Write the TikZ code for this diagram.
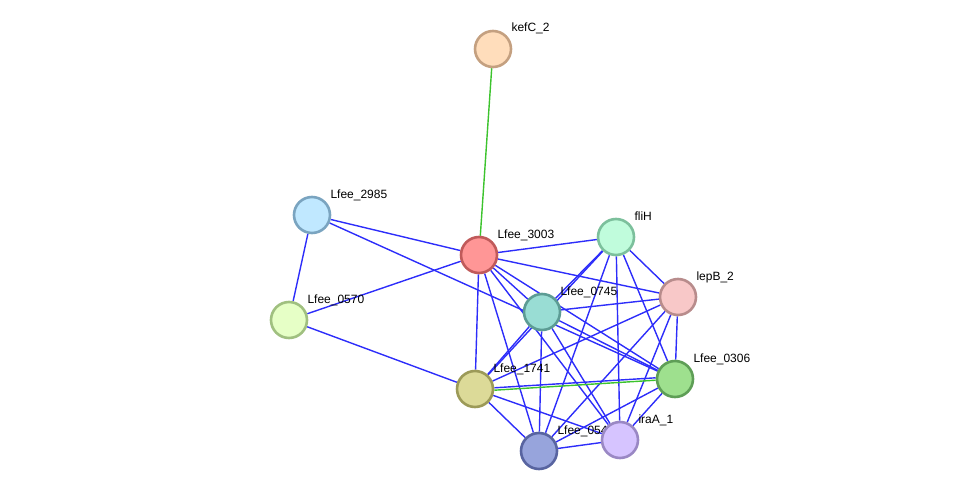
\documentclass[tikz,border=0pt]{standalone}
\usepackage{fontspec}
\setmainfont{Liberation Sans}
\usetikzlibrary{backgrounds}

\definecolor{edgeblue}{RGB}{45,45,250}
\definecolor{edgegreen}{RGB}{60,195,45}

\begin{document}
\begin{tikzpicture}[x=1pt,y=-1pt,
  prot/.style={circle,draw,line width=2.6pt,minimum size=36pt,inner sep=0pt},
  lbl/.style={inner sep=0pt,text height=9pt,text depth=0pt,xshift=-1pt,yshift=21.5pt,font=\fontsize{12}{14}\selectfont},
  ln/.style={edgeblue,line width=1.4pt},
  gl/.style={edgegreen,line width=1.4pt}]
\useasboundingbox (0,0) rectangle (976,497);

\node (kefC) [prot,draw={rgb,255:red,196;green,160;blue,128},fill={rgb,255:red,255;green,221;blue,187},label={[lbl]right:kefC\_2}] at (493,49) {};
\node (l2985) [prot,draw={rgb,255:red,122;green,164;blue,192},fill={rgb,255:red,192;green,232;blue,255},label={[lbl]right:Lfee\_2985}] at (312,215) {};
\node (l3003) [prot,draw={rgb,255:red,192;green,90;blue,90},fill={rgb,255:red,255;green,150;blue,150},label={[lbl]right:Lfee\_3003}] at (479,255) {};
\node (fliH) [prot,draw={rgb,255:red,124;green,192;blue,156},fill={rgb,255:red,192;green,252;blue,220},label={[lbl]right:fliH}] at (616,237) {};
\node (lepB) [prot,draw={rgb,255:red,184;green,140;blue,140},fill={rgb,255:red,248;green,200;blue,200},label={[lbl]right:lepB\_2}] at (678,297) {};
\node (l0745) [prot,draw={rgb,255:red,92;green,156;blue,148},fill={rgb,255:red,153;green,221;blue,212},label={[lbl]right:Lfee\_0745}] at (542,312) {};
\node (l0570) [prot,draw={rgb,255:red,160;green,192;blue,128},fill={rgb,255:red,230;green,255;blue,198},label={[lbl]right:Lfee\_0570}] at (289,320) {};
\node (l0306) [prot,draw={rgb,255:red,94;green,158;blue,86},fill={rgb,255:red,158;green,224;blue,142},label={[lbl]right:Lfee\_0306}] at (675,379) {};
\node (l1741) [prot,draw={rgb,255:red,156;green,154;blue,88},fill={rgb,255:red,220;green,218;blue,152},label={[lbl]right:Lfee\_1741}] at (475,389) {};
\node (l0546) [prot,draw={rgb,255:red,88;green,100;blue,160},fill={rgb,255:red,151;green,164;blue,220},label={[lbl]right:Lfee\_0546}] at (539,451) {};
\node (iraA) [prot,draw={rgb,255:red,154;green,136;blue,196},fill={rgb,255:red,214;green,196;blue,255},label={[lbl]right:iraA\_1}] at (620,440) {};

\begin{pgfonlayer}{background}
\draw[gl] (kefC) -- (l3003);
\draw[ln] (l2985) -- (l3003);
\draw[ln] (l2985) -- (l0570);
\draw[ln] (l2985) -- (l0306);
\draw[ln] (l0570) -- (l3003);
\draw[ln] (l0570) -- (l1741);
\draw[ln] (l3003) -- (fliH);
\draw[ln] (l3003) -- (lepB);
\draw[ln] (l3003) -- (l0745);
\draw[ln] (l3003) -- (l1741);
\draw[ln] (l3003) -- (l0306);
\draw[ln] (l3003) -- (iraA);
\draw[ln] (l3003) -- (l0546);
\draw[ln] (fliH) -- (l0745);
\draw[ln] (fliH) -- (l1741);
\draw[ln] (fliH) -- (lepB);
\draw[ln] (fliH) -- (l0306);
\draw[ln] (fliH) -- (iraA);
\draw[ln] (fliH) -- (l0546);
\draw[ln] (lepB) -- (l0745);
\draw[ln] (lepB) -- (l1741);
\draw[ln] (lepB) -- (l0546);
\draw[ln] (lepB) -- (iraA);
\draw[ln] (lepB) -- (l0306);
\draw[ln] (l0745) -- (l1741);
\draw[ln] (l0745) -- (l0546);
\draw[ln] (l0745) -- (iraA);
\draw[ln] (l0745) -- (l0306);
\draw[ln] ([yshift=1.2pt]l1741.east) -- ([yshift=1.2pt]l0306.west);
\draw[gl] ([yshift=-1.2pt]l1741.east) -- ([yshift=-1.2pt]l0306.west);
\draw[ln] (l1741) -- (l0546);
\draw[ln] (l1741) -- (iraA);
\draw[ln] (l0546) -- (iraA);
\draw[ln] (l0546) -- (l0306);
\draw[ln] (iraA) -- (l0306);
\end{pgfonlayer}
\end{tikzpicture}
\end{document}
